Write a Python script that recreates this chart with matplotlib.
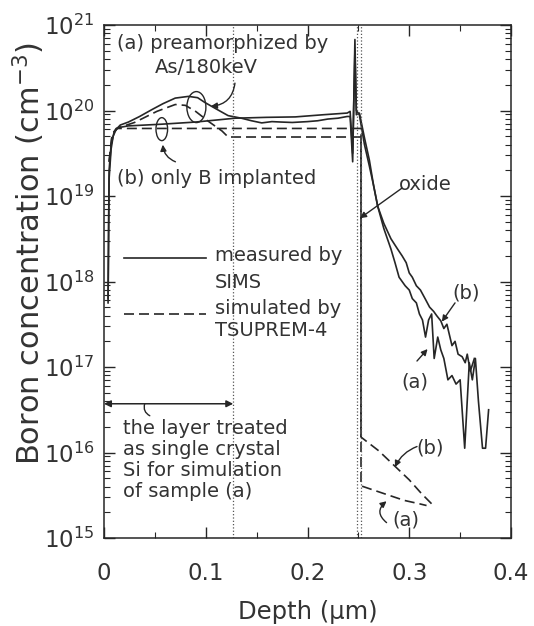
import numpy as np
import matplotlib
matplotlib.use("Agg")
import matplotlib.pyplot as plt
from matplotlib.patches import Ellipse
from matplotlib.ticker import LogLocator, FixedLocator, NullFormatter

plt.rcParams['font.family'] = ['DejaVu Sans']
plt.rcParams['mathtext.fontset'] = 'dejavusans'

# ---------------- data (depth in um, log10 of concentration in cm^-3) -------------
meas_a_depth = [0.004, 0.0045, 0.005, 0.007, 0.009, 0.012, 0.016, 0.024, 0.035, 0.047,
                0.058, 0.070, 0.083, 0.092, 0.099, 0.110, 0.122, 0.135, 0.145, 0.155,
                0.165, 0.174, 0.185, 0.200, 0.210, 0.220, 0.230, 0.239, 0.2419, 0.2444,
                0.2466, 0.2480, 0.251, 0.256, 0.2608, 0.265, 0.269, 0.275, 0.282, 0.286,
                0.290, 0.296, 0.300, 0.303, 0.307, 0.310, 0.313, 0.316, 0.319, 0.322,
                0.3245, 0.328, 0.331, 0.334, 0.338, 0.342, 0.346, 0.350, 0.3545, 0.359,
                0.362, 0.365, 0.368, 0.372, 0.375, 0.378]
meas_a_log = [17.75, 18.5, 19.2, 19.55, 19.7, 19.78, 19.83, 19.865, 19.93, 20.01,
              20.08, 20.145, 20.165, 20.15, 20.095, 20.02, 19.94, 19.91, 19.88, 19.855,
              19.87, 19.865, 19.86, 19.87, 19.88, 19.90, 19.91, 19.93, 19.93, 19.40,
              20.83, 19.95, 19.97, 19.68, 19.42, 19.12, 18.88, 18.62, 18.38, 18.22,
              18.05, 17.95, 17.90, 17.80, 17.75, 17.62, 17.55, 17.35, 17.55, 17.62,
              17.10, 17.35, 17.20, 17.10, 16.85, 16.90, 16.80, 16.85, 16.05, 17.05,
              16.85, 17.10, 16.60, 16.05, 16.05, 16.50]

meas_b_depth = [0.004, 0.0045, 0.005, 0.007, 0.010, 0.014, 0.024, 0.057, 0.090, 0.129,
                0.160, 0.188, 0.215, 0.239, 0.2419, 0.2444, 0.2466, 0.2480, 0.251, 0.256,
                0.2608, 0.265, 0.269, 0.275, 0.282, 0.2885, 0.293, 0.297, 0.300, 0.303,
                0.307, 0.311, 0.316, 0.320, 0.324, 0.327, 0.331, 0.334, 0.337, 0.340,
                0.342, 0.345, 0.348, 0.352, 0.355, 0.357, 0.360, 0.364]
meas_b_log = [17.8, 18.6, 19.3, 19.6, 19.75, 19.8, 19.82, 19.84, 19.865, 19.91,
              19.92, 19.925, 19.95, 19.97, 19.99, 19.50, 20.70, 20.0, 19.95, 19.60,
              19.35, 19.12, 18.88, 18.68, 18.50, 18.38, 18.30, 18.22, 18.10, 18.05,
              17.95, 17.90, 17.79, 17.70, 17.65, 17.60, 17.54, 17.45, 17.50, 17.35,
              17.25, 17.30, 17.15, 17.12, 17.05, 17.15, 16.95, 17.10]

sim_a_depth = [0.005, 0.008, 0.012, 0.030, 0.052, 0.070, 0.080, 0.090, 0.103, 0.116,
               0.122, 0.2526, 0.2526, 0.265, 0.280, 0.295, 0.310, 0.317]
sim_a_log = [19.40, 19.72, 19.79, 19.86, 19.99, 20.07, 20.06, 19.99, 19.87, 19.76,
             19.69, 19.69, 15.61, 15.56, 15.50, 15.44, 15.40, 15.38]

sim_b_depth = [0.005, 0.008, 0.013, 0.2526, 0.2526, 0.270, 0.285, 0.300, 0.312, 0.322]
sim_b_log = [19.40, 19.72, 19.79, 19.79, 16.18, 16.02, 15.85, 15.68, 15.52, 15.40]

boundary_depths = [0.127, 0.249, 0.2526]

x_ticks = [0, 0.1, 0.2, 0.3, 0.4]
x_tick_labels = ['0', '0.1', '0.2', '0.3', '0.4']
y_decades = [15, 16, 17, 18, 19, 20, 21]

# ---------------- figure ----------------
ink = '#262626'
fig = plt.figure(figsize=(5.34, 6.26), dpi=100)
ax = fig.add_axes([104/534, 1 - 538/626, 407/534, 513/626])
ax.set_yscale('log')
ax.set_xlim(0, 0.4)
ax.set_ylim(1e15, 1e21)

def lin(v):
    return 10.0 ** np.asarray(v)

ax.plot(meas_a_depth, lin(meas_a_log), color=ink, lw=1.2)
ax.plot(meas_b_depth, lin(meas_b_log), color=ink, lw=1.2)
ax.plot(sim_a_depth, lin(sim_a_log), color=ink, lw=1.2, dashes=(6, 3))
ax.plot(sim_b_depth, lin(sim_b_log), color=ink, lw=1.2, dashes=(6, 3))

for d in boundary_depths:
    ax.axvline(d, color='#555555', lw=0.9, ls=':')

# ticks
ax.xaxis.set_major_locator(FixedLocator(x_ticks))
ax.set_xticklabels(x_tick_labels)
ax.xaxis.set_minor_locator(FixedLocator([0.05, 0.15, 0.25, 0.35]))
ax.yaxis.set_major_locator(FixedLocator([10.0 ** e for e in y_decades]))
ax.set_yticklabels([r'$10^{%d}$' % e for e in y_decades])
ax.yaxis.set_minor_locator(LogLocator(base=10, subs=np.arange(2, 10), numticks=20))
ax.yaxis.set_minor_formatter(NullFormatter())
ax.tick_params(which='both', direction='in', top=True, right=True, color=ink)
ax.tick_params(which='major', length=8, width=1.0, labelsize=16.5, labelcolor='#333333')
ax.tick_params(axis='y', which='major', pad=7)
ax.tick_params(axis='x', which='major', pad=17)
ax.tick_params(which='minor', length=4, width=0.8)
for s in ax.spines.values():
    s.set_color(ink)
    s.set_linewidth(1.1)

ax.set_xlabel('Depth (μm)', fontsize=17.5, color='#333333', labelpad=11)
ax.set_ylabel(r'Boron concentration (cm$^{-3}$)', fontsize=22, color='#333333')
ax.yaxis.set_label_coords(-0.14, 0.555)

# ---------------- annotations ----------------
fs = 14
tc = '#333333'
def L(v):
    return 10.0 ** v

ax.text(0.0128, L(20.78), '(a) preamorphized by', fontsize=fs, color=tc, va='center', ha='left')
ax.text(0.050, L(20.50), 'As/180keV', fontsize=fs, color=tc, va='center', ha='left')
ax.text(0.0128, L(19.20), '(b) only B implanted', fontsize=fs, color=tc, va='center', ha='left')
ax.text(0.290, L(19.13), 'oxide', fontsize=fs, color=tc, va='center', ha='left')

# legend
ax.plot([0.0197, 0.100], [L(18.275), L(18.275)], color=ink, lw=1.2)
ax.text(0.109, L(18.30), 'measured by', fontsize=fs, color=tc, va='center', ha='left')
ax.text(0.109, L(17.99), 'SIMS', fontsize=fs, color=tc, va='center', ha='left')
ax.plot([0.0197, 0.100], [L(17.62), L(17.62)], color=ink, lw=1.2, dashes=(6, 3))
ax.text(0.109, L(17.69), 'simulated by', fontsize=fs, color=tc, va='center', ha='left')
ax.text(0.109, L(17.43), 'TSUPREM-4', fontsize=fs, color=tc, va='center', ha='left')

# layer arrow
ax.annotate('', xy=(0.0, L(16.57)), xytext=(0.127, L(16.57)),
            arrowprops=dict(arrowstyle='<|-|>', color=ink, lw=1.1, mutation_scale=10,
                            shrinkA=0, shrinkB=0))
ax.annotate('', xy=(0.040, L(16.57)), xytext=(0.045, L(16.43)),
            arrowprops=dict(arrowstyle='-', color=ink, lw=1.0,
                            connectionstyle='arc3,rad=-0.4', shrinkA=0, shrinkB=0))
for i, t in enumerate(['the layer treated', 'as single crystal',
                       'Si for simulation', 'of sample (a)']):
    ax.text(0.0187, L(16.275 - 0.243 * i), t, fontsize=fs, color=tc, va='center', ha='left')

# tail labels
ax.text(0.356, L(17.87), '(b)', fontsize=fs, color=tc, va='center', ha='center')
ax.annotate('', xy=(0.332, L(17.53)), xytext=(0.345, L(17.75)),
            arrowprops=dict(arrowstyle='-|>', color=ink, lw=1.0, mutation_scale=9,
                            shrinkA=0, shrinkB=0))
ax.text(0.306, L(16.82), '(a)', fontsize=fs, color=tc, va='center', ha='center')
ax.annotate('', xy=(0.318, L(17.21)), xytext=(0.3076, L(17.07)),
            arrowprops=dict(arrowstyle='-|>', color=ink, lw=1.0, mutation_scale=9,
                            shrinkA=0, shrinkB=0))
ax.text(0.321, L(16.05), '(b)', fontsize=fs, color=tc, va='center', ha='center')
ax.annotate('', xy=(0.286, L(15.83)), xytext=(0.3076, L(16.07)),
            arrowprops=dict(arrowstyle='-|>', color=ink, lw=1.0, mutation_scale=9,
                            connectionstyle='arc3,rad=0.2', shrinkA=0, shrinkB=0))
ax.text(0.2963, L(15.21), '(a)', fontsize=fs, color=tc, va='center', ha='center')
ax.annotate('', xy=(0.2777, L(15.43)), xytext=(0.2777, L(15.18)),
            arrowprops=dict(arrowstyle='-|>', color=ink, lw=1.0, mutation_scale=9,
                            connectionstyle='arc3,rad=-0.6', shrinkA=0, shrinkB=0))

# oxide arrow
ax.annotate('', xy=(0.2516, L(18.74)), xytext=(0.2926, L(19.09)),
            arrowprops=dict(arrowstyle='-|>', color=ink, lw=1.0, mutation_scale=9,
                            shrinkA=0, shrinkB=0))

# ellipses
ax.add_patch(Ellipse((0.227, 0.840), 0.0467, 0.0604, angle=0, transform=ax.transAxes,
                     fill=False, ec=ink, lw=1.0))
ax.annotate('', xy=(0.105, L(20.05)), xytext=(0.1287, L(20.32)),
            arrowprops=dict(arrowstyle='-|>', color=ink, lw=1.0, mutation_scale=9,
                            connectionstyle='arc3,rad=-0.4', shrinkA=0, shrinkB=0))
ax.add_patch(Ellipse((0.142, 0.797), 0.0285, 0.0448, angle=0, transform=ax.transAxes,
                     fill=False, ec=ink, lw=1.0))
ax.annotate('', xy=(0.0578, L(19.60)), xytext=(0.0702, L(19.40)),
            arrowprops=dict(arrowstyle='-|>', color=ink, lw=1.0, mutation_scale=9,
                            connectionstyle='arc3,rad=-0.3', shrinkA=0, shrinkB=0))

fig.savefig('out.png', dpi=100)
